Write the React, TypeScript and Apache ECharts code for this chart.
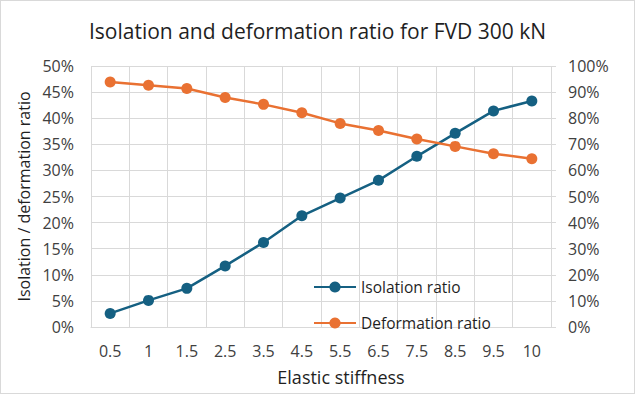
import React, { useEffect, useRef } from "react";
import * as echarts from "echarts";

const categories = ["0.5", "1", "1.5", "2.5", "3.5", "4.5", "5.5", "6.5", "7.5", "8.5", "9.5", "10"];
const isolationRatio = [2.6, 5.1, 7.4, 11.7, 16.2, 21.3, 24.7, 28.1, 32.7, 37.1, 41.4, 43.3];
const deformationRatio = [93.9, 92.6, 91.4, 87.9, 85.3, 82.1, 78.0, 75.3, 72.0, 69.2, 66.4, 64.5];

const FONT = "'Open Sans', 'Noto Sans', sans-serif";
const TEXT = "#404040";
const DARK = "#1f1f1f";

export default function App() {
  const ref = useRef<HTMLDivElement>(null);
  useEffect(() => {
    if (!ref.current) return;
    const chart = echarts.init(ref.current, undefined, { renderer: "svg" });
    chart.setOption({
      animation: false,
      backgroundColor: "#ffffff",
      textStyle: { fontFamily: FONT },
      title: {
        text: "Isolation and deformation ratio for FVD 300 kN",
        left: "center",
        top: 14,
        textStyle: { fontFamily: FONT, fontSize: 21, fontWeight: "normal", color: DARK },
      },
      grid: { left: 90, right: 83, top: 65, bottom: 66, containLabel: false },
      legend: {
        orient: "vertical",
        left: 312,
        top: 278,
        padding: 0,
        itemGap: 20,
        itemWidth: 42,
        itemHeight: 14,
        textStyle: { fontFamily: FONT, fontSize: 15.5, color: DARK },
        data: ["Isolation ratio", "Deformation ratio"],
      },
      xAxis: {
        type: "category",
        data: categories,
        boundaryGap: true,
        name: "Elastic stiffness",
        nameLocation: "middle",
        nameGap: 41,
        nameTextStyle: { fontFamily: FONT, fontSize: 18, color: DARK, padding: [0, 0, 0, 40] },
        axisLine: { show: true, lineStyle: { color: "#d9d9d9", width: 1 } },
        axisTick: { show: false },
        axisLabel: { fontFamily: FONT, fontSize: 16, color: TEXT, margin: 16 },
        splitLine: { show: true, lineStyle: { color: "#d9d9d9", width: 1 } },
      },
      yAxis: [
        {
          type: "value",
          min: 0,
          max: 50,
          interval: 5,
          name: "Isolation / deformation ratio",
          nameLocation: "middle",
          nameGap: 58,
          nameTextStyle: { fontFamily: FONT, fontSize: 16, color: DARK },
          axisLine: { show: false },
          axisTick: { show: false },
          axisLabel: { formatter: "{value}%", fontFamily: FONT, fontSize: 16, color: TEXT, margin: 17 },
          splitLine: { show: true, lineStyle: { color: "#d9d9d9", width: 1 } },
        },
        {
          type: "value",
          min: 0,
          max: 100,
          interval: 10,
          position: "right",
          axisLine: { show: false },
          axisTick: { show: true, length: 5, lineStyle: { color: "#d9d9d9" } },
          axisLabel: { formatter: "{value}%", fontFamily: FONT, fontSize: 16, color: TEXT, margin: 17 },
          splitLine: { show: false },
        },
      ],
      series: [
        {
          name: "Isolation ratio",
          type: "line",
          yAxisIndex: 0,
          data: isolationRatio,
          symbol: "circle",
          symbolSize: 11,
          itemStyle: { color: "#156082" },
          lineStyle: { color: "#156082", width: 2.5 },
        },
        {
          name: "Deformation ratio",
          type: "line",
          yAxisIndex: 1,
          data: deformationRatio,
          symbol: "circle",
          symbolSize: 11,
          itemStyle: { color: "#E97132" },
          lineStyle: { color: "#E97132", width: 2.5 },
        },
      ],
    });
    return () => chart.dispose();
  }, []);
  return (
    <div
      ref={ref}
      style={{
        position: "fixed",
        left: 0,
        top: 0,
        width: 635,
        height: 394,
        boxSizing: "border-box",
        border: "1px solid #d9d9d9",
      }}
    />
  );
}
